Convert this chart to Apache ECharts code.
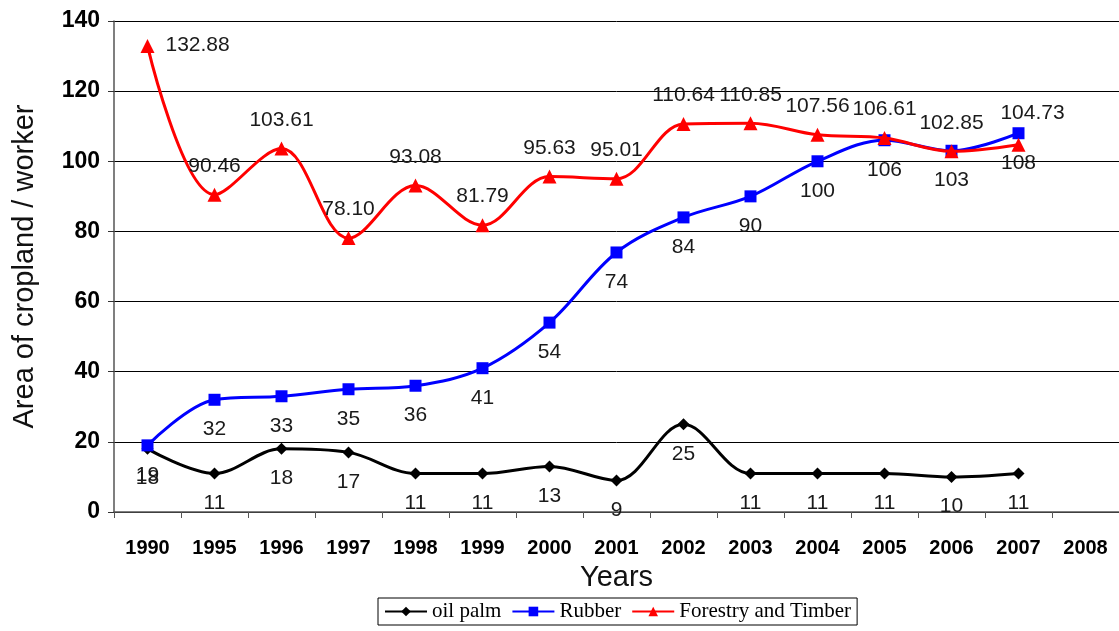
<!DOCTYPE html>
<html>
<head>
<meta charset="utf-8">
<script src="https://cdn.jsdelivr.net/npm/echarts@6/dist/echarts.min.js"></script>
<style>html,body{margin:0;padding:0;background:#fff;}#c{width:1119px;height:631px;}</style>
</head>
<body>
<div id="c"></div>
<script>
var years = ['1990','1995','1996','1997','1998','1999','2000','2001','2002','2003','2004','2005','2006','2007','2008'];
var oilPalm = [18, 11, 18, 17, 11, 11, 13, 9, 25, 11, 11, 11, 10, 11];
var rubber = [19, 32, 33, 35, 36, 41, 54, 74, 84, 90, 100, 106, 103, 108];
var forestry = [132.88, 90.46, 103.61, 78.10, 93.08, 81.79, 95.63, 95.01, 110.64, 110.85, 107.56, 106.61, 102.85, 104.73];
var yTicks = [0, 20, 40, 60, 80, 100, 120, 140];

var chart = echarts.init(document.getElementById('c'));
var labelFont = {fontFamily: 'Liberation Sans', fontSize: 21, color: '#1a1a1a'};
chart.setOption({
  animation: false,
  backgroundColor: '#fff',
  grid: {left: 114, top: 21, width: 1012, height: 491},
  legend: {
    left: 378, top: 598,
    padding: [3, 6, 3, 6],
    itemGap: 10, itemWidth: 42, itemHeight: 12,
    borderColor: '#000', borderWidth: 1,
    textStyle: {fontFamily: 'Liberation Serif', fontSize: 21, color: '#000'},
    data: ['oil palm', 'Rubber', 'Forestry and Timber']
  },
  xAxis: {
    type: 'category',
    data: years,
    boundaryGap: true,
    name: 'Years',
    nameLocation: 'middle',
    nameGap: 51,
    nameTextStyle: {fontFamily: 'Liberation Sans', fontSize: 29, color: '#111'},
    axisLine: {lineStyle: {color: '#555', width: 1.5}},
    axisTick: {show: true, length: 6, lineStyle: {color: '#555'}},
    axisLabel: {margin: 26, fontFamily: 'Liberation Sans', fontWeight: 'bold', fontSize: 20, color: '#000'}
  },
  yAxis: {
    type: 'value',
    min: yTicks[0], max: yTicks[yTicks.length - 1], interval: 20,
    name: 'Area of cropland / worker',
    nameLocation: 'middle',
    nameGap: 75,
    nameTextStyle: {fontFamily: 'Liberation Sans', fontSize: 29, color: '#111'},
    axisLine: {show: true, lineStyle: {color: '#555', width: 1.5}},
    axisTick: {show: true, length: 6, lineStyle: {color: '#333'}},
    axisLabel: {margin: 14, fontFamily: 'Liberation Sans', fontWeight: 'bold', fontSize: 23, color: '#000'},
    splitLine: {show: true, lineStyle: {color: '#000', width: 1}}
  },
  series: [
    {
      name: 'oil palm', type: 'line', smooth: 0.35,
      data: oilPalm,
      symbol: 'diamond', symbolSize: 12,
      lineStyle: {color: '#000', width: 3},
      itemStyle: {color: '#000'},
      label: Object.assign({show: true, position: 'bottom', distance: 13}, labelFont),
      z: 3
    },
    {
      name: 'Rubber', type: 'line', smooth: 0.35,
      data: rubber,
      symbol: 'rect', symbolSize: 12,
      lineStyle: {color: '#0000ff', width: 3},
      itemStyle: {color: '#0000ff'},
      label: Object.assign({show: true, position: 'bottom', distance: 13}, labelFont),
      z: 4
    },
    {
      name: 'Forestry and Timber', type: 'line', smooth: 0.35,
      data: forestry.map(function (v, i) {
        if (i === 0) return {value: v, label: {position: 'right', distance: 11, offset: [0, -1]}};
        if (i === forestry.length - 1) return {value: v, label: {offset: [14, -3]}};
        return v;
      }),
      symbol: 'triangle', symbolSize: 14,
      lineStyle: {color: '#ff0000', width: 3},
      itemStyle: {color: '#ff0000'},
      label: Object.assign({show: true, position: 'top', distance: 11,
        formatter: function (p) { return Number(p.value).toFixed(2); }}, labelFont),
      z: 5
    }
  ]
});
</script>
</body>
</html>
